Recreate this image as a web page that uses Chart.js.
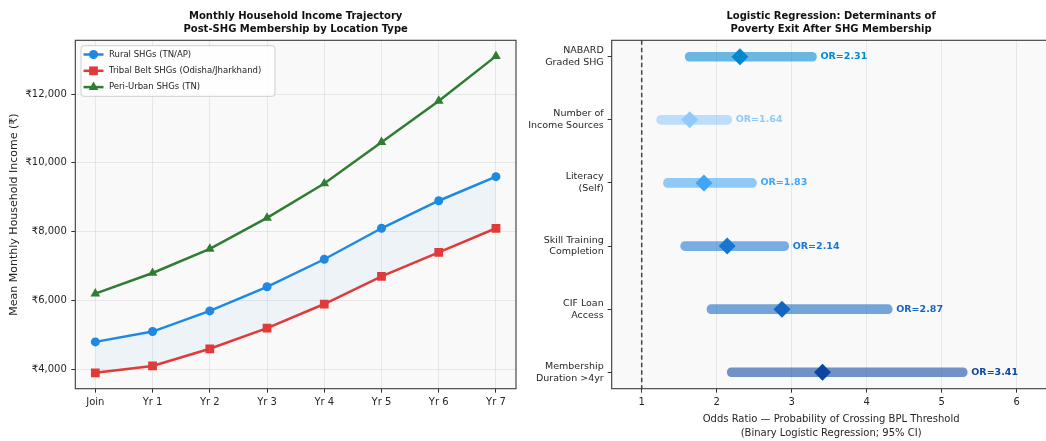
<!DOCTYPE html>
<html>
<head>
<meta charset="utf-8">
<script src="https://cdn.jsdelivr.net/npm/chart.js@4.4.1/dist/chart.umd.min.js"></script>
<style>
  html, body { margin: 0; padding: 0; background: #fff; overflow: hidden; }
  #wrap { position: relative; width: 1046px; height: 441px; overflow: hidden; }
  #leftBox { position: absolute; left: 0; top: 0; width: 520px; height: 441px; }
  #rightBox { position: absolute; left: 520px; top: 0; width: 531px; height: 441px; }
</style>
</head>
<body>
<div id="wrap">
  <div id="leftBox"><canvas id="incomeChart"></canvas></div>
  <div id="rightBox"><canvas id="oddsChart"></canvas></div>
</div>
<script>
// ---- data: income trajectory ----
var periods = ["Join", "Yr 1", "Yr 2", "Yr 3", "Yr 4", "Yr 5", "Yr 6", "Yr 7"];
var ruralIncome = [4800, 5100, 5700, 6400, 7200, 8100, 8900, 9600];
var tribalIncome = [3900, 4100, 4600, 5200, 5900, 6700, 7400, 8100];
var periUrbanIncome = [6200, 6800, 7500, 8400, 9400, 10600, 11800, 13100];
var incomeTicks = [4000, 6000, 8000, 10000, 12000];
var seriesNames = ["Rural SHGs (TN/AP)", "Tribal Belt SHGs (Odisha/Jharkhand)", "Peri-Urban SHGs (TN)"];

// ---- data: logistic regression ----
var factors = [["NABARD", "Graded SHG"], ["Number of", "Income Sources"], ["Literacy", "(Self)"],
               ["Skill Training", "Completion"], ["CIF Loan", "Access"], ["Membership", "Duration >4yr"]];
var oddsRatio = [2.31, 1.64, 1.83, 2.14, 2.87, 3.41];
var ciLow = [1.58, 1.20, 1.29, 1.52, 1.87, 2.14];
var ciHigh = [3.33, 2.20, 2.53, 2.96, 4.34, 5.34];
var orTicks = [1, 2, 3, 4, 5, 6];

var factorColors = ["#0288D1", "#90CAF9", "#42A5F5", "#1976D2", "#1565C0", "#0D47A1"];

Chart.defaults.font.family = "'DejaVu Sans', sans-serif";
Chart.defaults.font.size = 10;
Chart.defaults.color = "#262626";
Chart.defaults.animation = false;

function hexA(hex, a) {
  var n = parseInt(hex.slice(1), 16);
  return "rgba(" + (n >> 16) + "," + ((n >> 8) & 255) + "," + (n & 255) + "," + a + ")";
}
function pts(arr) { return arr.map(function (v, i) { return { x: i, y: v }; }); }
function fixTicks(values) {
  return function (s) { s.ticks = values.map(function (v) { return { value: v }; }); };
}
function fitHeight(h) {
  return function (s) { s.height = h; s.paddingLeft = 0; s.paddingRight = 0; };
}
function fitWidth(w) {
  return function (s) { s.width = w; s.paddingTop = 0; s.paddingBottom = 0; };
}

// plot background, frame and two-line title
function frameTitle(lines) {
  return {
    id: "frameTitle",
    beforeDraw: function (chart) {
      var a = chart.chartArea, c = chart.ctx;
      c.save();
      c.fillStyle = "#f9f9f9";
      c.fillRect(a.left, a.top, a.right - a.left, a.bottom - a.top);
      c.restore();
    },
    afterDraw: function (chart) {
      var a = chart.chartArea, c = chart.ctx;
      c.save();
      c.strokeStyle = "#3a3a3a";
      c.lineWidth = 1.1;
      c.strokeRect(a.left, a.top, a.right - a.left, a.bottom - a.top);
      c.fillStyle = "#111";
      c.font = "bold 10px 'DejaVu Sans'";
      c.textAlign = "center";
      c.textBaseline = "middle";
      var cx = (a.left + a.right) / 2;
      c.fillText(lines[0], cx, 16);
      c.fillText(lines[1], cx, 29.3);
      c.restore();
    }
  };
}

// legend box inside the left plot
var insideLegend = {
  id: "insideLegend",
  afterDatasetsDraw: function (chart) {
    var a = chart.chartArea, c = chart.ctx;
    var bx = a.left + 5.7, by = a.top + 5.4, bw = 194, bh = 50.6;
    c.save();
    c.fillStyle = "rgba(255,255,255,0.85)";
    c.strokeStyle = "#cfcfcf";
    c.lineWidth = 1;
    c.beginPath();
    c.roundRect(bx, by, bw, bh, 3);
    c.fill();
    c.stroke();
    chart.data.datasets.forEach(function (ds, i) {
      var y = by + 8.8 + i * 16.3;
      c.strokeStyle = ds.borderColor;
      c.lineWidth = 2.5;
      c.beginPath();
      c.moveTo(bx + 2.5, y);
      c.lineTo(bx + 22.5, y);
      c.stroke();
      c.fillStyle = ds.borderColor;
      Chart.helpers.drawPoint(c, { pointStyle: ds.pointStyle, radius: ds.pointRadius, rotation: 0, borderWidth: 0 }, bx + 12.5, y);
      c.fillStyle = "#222";
      c.font = "8.5px 'DejaVu Sans'";
      c.textAlign = "left";
      c.textBaseline = "middle";
      c.fillText(ds.label, bx + 28, y);
    });
    c.restore();
  }
};

new Chart(document.getElementById("incomeChart"), {
  type: "line",
  data: {
    datasets: [
      { label: seriesNames[0], data: pts(ruralIncome), borderColor: "#1E88E5", backgroundColor: "rgba(30,136,229,0.05)",
        pointBackgroundColor: "#1E88E5", pointBorderWidth: 0, pointStyle: "circle", pointRadius: 4.5,
        borderWidth: 2.5, fill: { target: "+1" } },
      { label: seriesNames[1], data: pts(tribalIncome), borderColor: "#E53935", backgroundColor: "#E53935",
        pointBackgroundColor: "#E53935", pointBorderWidth: 0, pointStyle: "rect", pointRadius: 6.2,
        borderWidth: 2.5, fill: false },
      { label: seriesNames[2], data: pts(periUrbanIncome), borderColor: "#2E7D32", backgroundColor: "#2E7D32",
        pointBackgroundColor: "#2E7D32", pointBorderWidth: 0, pointStyle: "triangle", pointRadius: 5.6,
        borderWidth: 2.5, fill: false }
    ]
  },
  options: {
    responsive: true,
    maintainAspectRatio: false,
    layout: { autoPadding: false, padding: { top: 40.3, right: 4, left: 0, bottom: 0 } },
    plugins: { legend: { display: false }, tooltip: { enabled: false } },
    scales: {
      x: {
        type: "linear", min: -0.35, max: 7.35, offset: false,
        afterBuildTicks: fixTicks(periods.map(function (p, i) { return i; })),
        afterFit: fitHeight(52.3),
        border: { display: false },
        grid: { offset: false, color: "rgba(0,0,0,0.07)", tickLength: 4, tickColor: "#333" },
        ticks: { autoSkip: false, maxRotation: 0, padding: 4,
                 callback: function (v) { return periods[v]; } }
      },
      y: {
        type: "linear", min: 3440, max: 13560,
        afterBuildTicks: fixTicks(incomeTicks),
        afterFit: fitWidth(75.3),
        border: { display: false },
        grid: { offset: false, color: "rgba(0,0,0,0.07)", tickLength: 4, tickColor: "#333" },
        ticks: { padding: 4.5,
                 callback: function (v) { return "\u20B9" + v.toLocaleString("en-US"); } },
        title: { display: true, text: "Mean Monthly Household Income (\u20B9)", font: { size: 11 }, padding: { top: 8, bottom: 0 } }
      }
    }
  },
  plugins: [frameTitle(["Monthly Household Income Trajectory", "Post-SHG Membership by Location Type"]), insideLegend]
});

// reference line at OR = 1 and OR labels
var orExtras = {
  id: "orExtras",
  beforeDatasetsDraw: function (chart) {
    var a = chart.chartArea, c = chart.ctx, x = chart.scales.x.getPixelForValue(1);
    c.save();
    c.strokeStyle = "#444";
    c.lineWidth = 1.5;
    c.setLineDash([4.5, 3]);
    c.beginPath();
    c.moveTo(x, a.top);
    c.lineTo(x, a.bottom);
    c.stroke();
    c.restore();
  },
  afterDatasetsDraw: function (chart) {
    var c = chart.ctx;
    c.save();
    c.font = "bold 9.5px 'DejaVu Sans'";
    c.textAlign = "left";
    c.textBaseline = "middle";
    oddsRatio.forEach(function (v, i) {
      c.fillStyle = factorColors[i];
      c.fillText("OR=" + v.toFixed(2), chart.scales.x.getPixelForValue(ciHigh[i]) + 4, chart.scales.y.getPixelForValue(i));
    });
    c.restore();
  }
};

new Chart(document.getElementById("oddsChart"), {
  type: "bar",
  data: {
    datasets: [
      { type: "bar", data: factors.map(function (f, i) { return { x: [ciLow[i], ciHigh[i]], y: i }; }),
        backgroundColor: factorColors.map(function (col) { return hexA(col, 0.58); }),
        barThickness: 9, borderRadius: 4.5, borderSkipped: false, borderWidth: 0 },
      { type: "scatter", data: oddsRatio.map(function (v, i) { return { x: v, y: i }; }),
        pointStyle: "rectRot", pointRadius: 8.5, backgroundColor: factorColors, borderColor: factorColors, borderWidth: 0 }
    ]
  },
  options: {
    indexAxis: "y",
    responsive: true,
    maintainAspectRatio: false,
    layout: { autoPadding: false, padding: { top: 40.3, right: 0.5, left: 0, bottom: 0 } },
    plugins: { legend: { display: false }, tooltip: { enabled: false } },
    scales: {
      x: {
        type: "linear", position: "bottom", min: 0.6, max: 6.45, offset: false,
        afterBuildTicks: fixTicks(orTicks),
        afterFit: fitHeight(52.3),
        border: { display: false },
        grid: { offset: false, color: "rgba(0,0,0,0.07)", tickLength: 4, tickColor: "#333" },
        ticks: { autoSkip: false, maxRotation: 0, padding: 4 },
        title: { display: true, text: ["Odds Ratio \u2014 Probability of Crossing BPL Threshold", "(Binary Logistic Regression; 95% CI)"],
                 font: { size: 10, lineHeight: 1.43 }, padding: { top: 0, bottom: 0.5 } }
      },
      y: {
        type: "linear", position: "left", min: -0.26, max: 5.26, reverse: true, offset: false,
        afterBuildTicks: fixTicks(factors.map(function (f, i) { return i; })),
        afterFit: fitWidth(91.7),
        border: { display: false },
        grid: { offset: false, drawOnChartArea: false, tickLength: 4, tickColor: "#333" },
        ticks: { autoSkip: false, padding: 4, font: { size: 9.5, lineHeight: 1.25 },
                 callback: function (v) { return factors[v]; } }
      }
    }
  },
  plugins: [frameTitle(["Logistic Regression: Determinants of", "Poverty Exit After SHG Membership"]), orExtras]
});
</script>
</body>
</html>
